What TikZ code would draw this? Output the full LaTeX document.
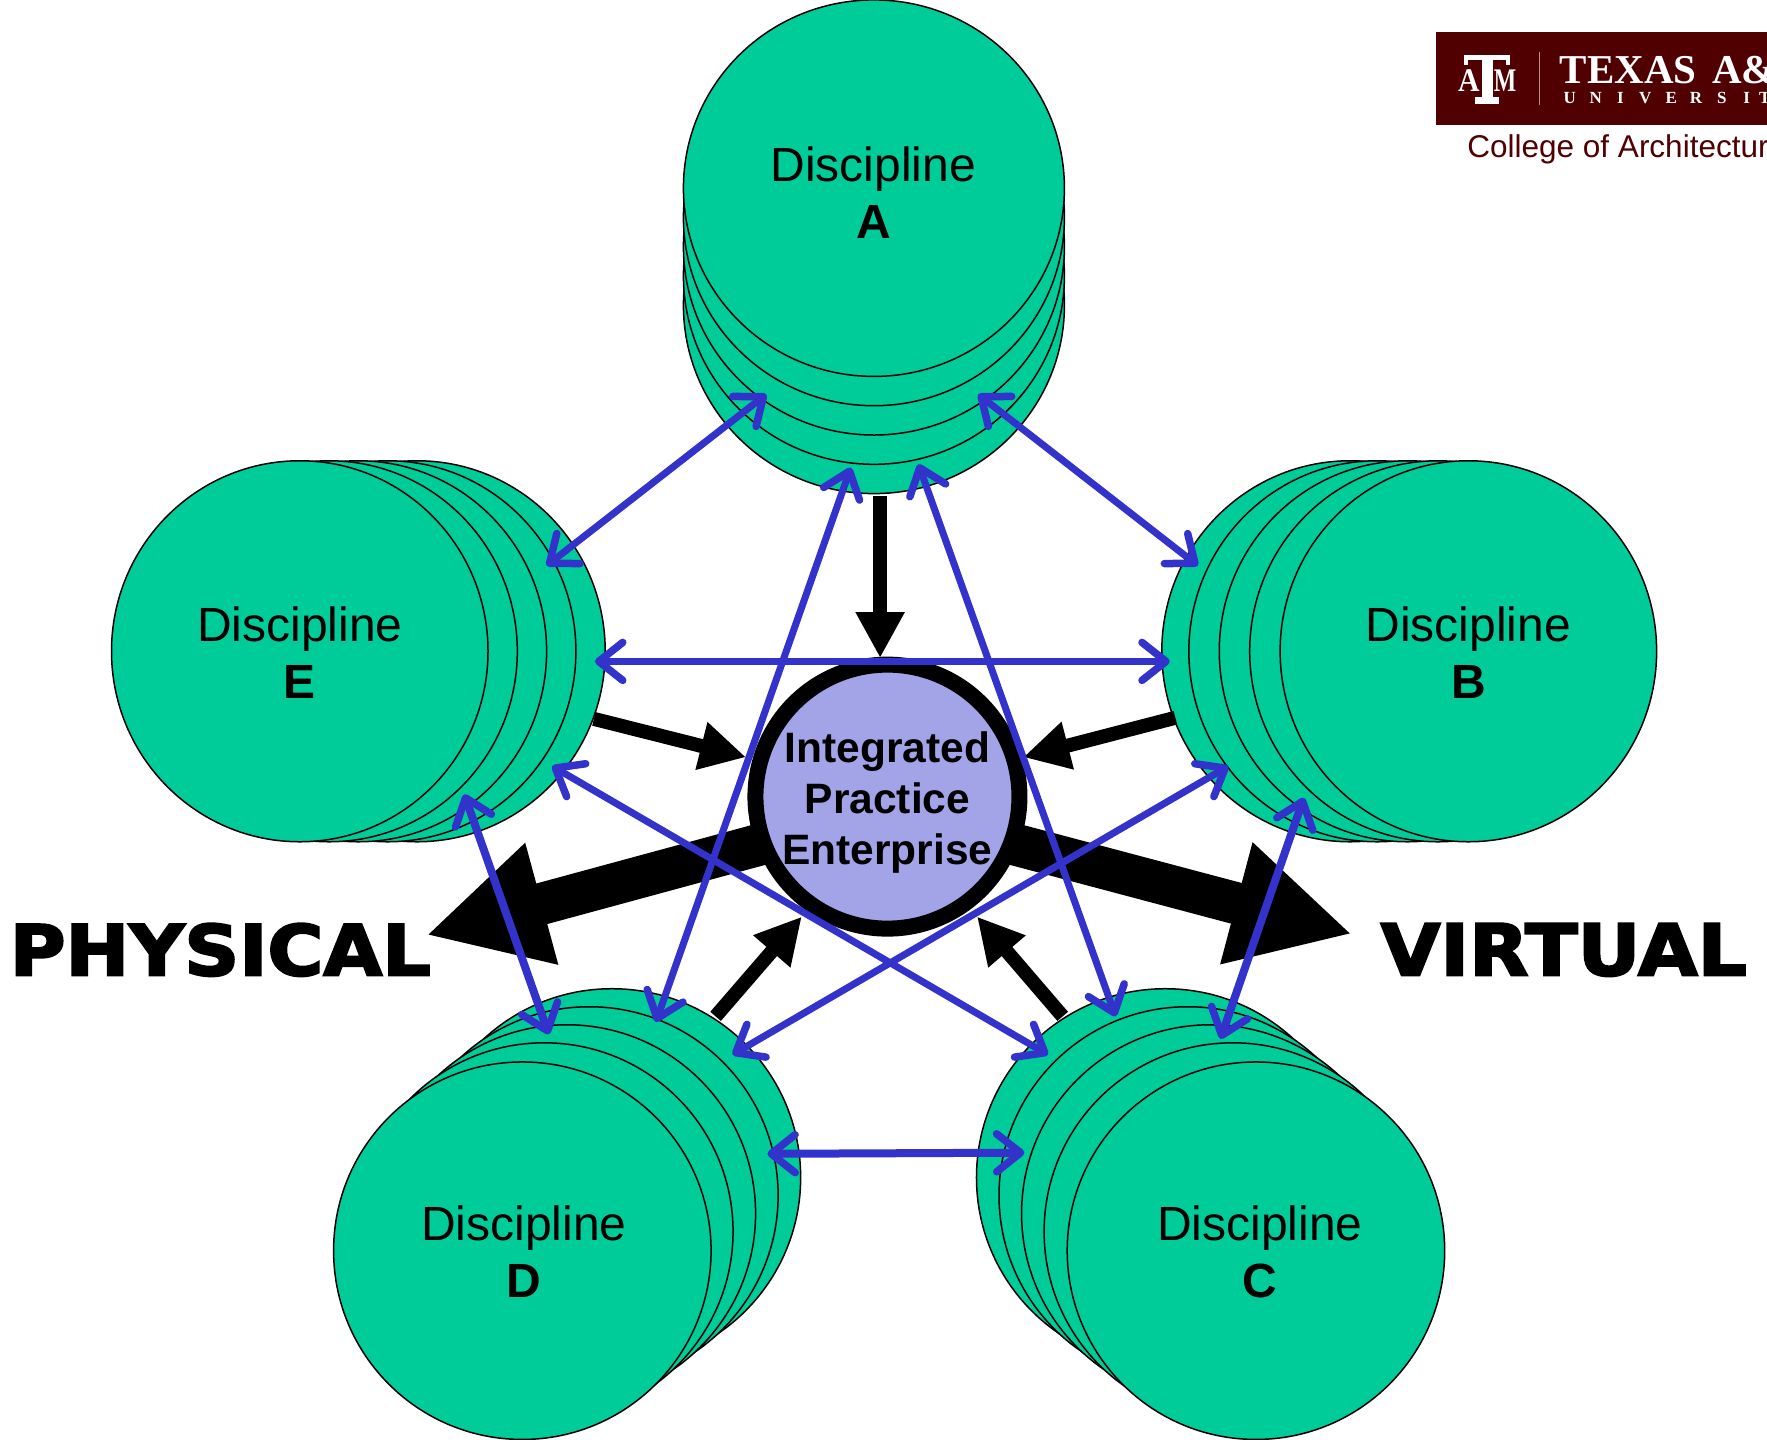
\documentclass[tikz,border=0pt]{standalone}
\usepackage{fontspec}
\usepackage{graphicx}
\setmainfont{Liberation Sans}
\newfontfamily\heavyfont[BoldFeatures={FakeBold=3}]{DejaVu Sans}
\newfontfamily\logoserif{Liberation Serif}
\usetikzlibrary{arrows.meta,shapes.geometric}
\definecolor{discgreen}{HTML}{00CC99}
\definecolor{hubfill}{HTML}{A3A3E8}
\definecolor{linkblue}{HTML}{3333CC}
\definecolor{aggie}{HTML}{500000}
\definecolor{logobar}{HTML}{B89088}
\tikzset{
  disc/.style={circle,draw=black,fill=discgreen,line width=1.5pt,minimum size=377.5pt,inner sep=0pt},
  sidedisc/.style={ellipse,draw=black,fill=discgreen,line width=1.5pt,minimum width=376.5pt,minimum height=381pt,inner sep=0pt},
  topdisc/.style={ellipse,draw=black,fill=discgreen,line width=1.5pt,minimum width=381pt,minimum height=376.5pt,inner sep=0pt},
  disclabel/.style={align=center,font=\fontsize{48pt}{57.5pt}\selectfont,inner sep=0pt},
  blink/.style={{Straight Barb[length=24pt,width=38pt,round,line width=7.5pt]}-{Straight Barb[length=24pt,width=38pt,round,line width=7.5pt]}},
  link/.style={blink,draw=linkblue,line width=7pt},
  flink/.style={blink,draw=linkblue,line width=8pt},
  feed/.style={draw=black,line width=14pt,-{Triangle[length=46pt,width=46pt]}},
  bigflow/.style={draw=black,line width=42pt,-{Triangle[length=120pt,width=117pt]}},
  sidetitle/.style={inner sep=0pt},
  logotext/.style={text=white,inner sep=0pt,font=\logoserif\bfseries},
}
\begin{document}
\begin{tikzpicture}[x=1.12691pt,y=-1.12676pt]
\useasboundingbox (0,0) rectangle (1568,1278);
% logo
\begin{scope}
\clip (0,0) rectangle (1568,1278);
\fill[aggie] (1274,28) rectangle (1568,111);
\draw[logobar,line width=1.6pt] (1366,46) -- (1366,93);
\node[logotext,anchor=base west,font=\logoserif\bfseries\fontsize{41pt}{41pt}\selectfont] (tx) at (1384,74) {TEXAS};
\node[logotext,anchor=base west,font=\logoserif\bfseries\fontsize{41pt}{41pt}\selectfont] (am) at (1519,74) {A\&M};
\foreach \c/\xx in {U/1393,N/1416,I/1438,V/1460,E/1483,R/1505,S/1528,I/1550,T/1566}
  \node[logotext,anchor=base,font=\logoserif\bfseries\fontsize{17pt}{17pt}\selectfont] at (\xx,92) {\c};
\fill[white] (1299,49) rectangle (1340,53);
\fill[white] (1299,49) rectangle (1303,58);
\fill[white] (1336,49) rectangle (1340,58);
\fill[white] (1315,51) rectangle (1325,88);
\fill[white] (1309,86) rectangle (1330,92);
\node[logotext,anchor=base,font=\logoserif\bfseries\fontsize{33pt}{33pt}\selectfont] (la) at (1303.5,81) {\scalebox{.9}[1]{A}};
\node[logotext,anchor=base,font=\logoserif\bfseries\fontsize{33pt}{33pt}\selectfont] (lm) at (1335.5,81) {\scalebox{.72}[1]{M}};
\node[anchor=base west,inner sep=0pt,text=aggie,font=\fontsize{31.5pt}{31.5pt}\selectfont] (college) at (1302,140) {College of Architecture};
\end{scope}
% discipline stacks
\foreach \i/\yy in {4/271,3/245,2/219,1/193,0/167} \node[topdisc] (A\i) at (775.5,\yy) {};
\foreach \i/\xx in {4/1198,3/1222,2/1249,1/1276,0/1303} \node[sidedisc] (B\i) at (\xx,578) {};
\foreach \i/\xx/\yy in {4/1034/1045,3/1054/1061,2/1074/1077,1/1094/1093,0/1114.5/1110} \node[disc] (C\i) at (\xx,\yy) {};
\foreach \i/\xx/\yy in {4/543/1045,3/523/1061,2/503/1077,1/483/1093,0/463.5/1110} \node[disc] (D\i) at (\xx,\yy) {};
\foreach \i/\xx in {4/370,3/344,2/318,1/292,0/266} \node[sidedisc] (E\i) at (\xx,578) {};
\node[disclabel] (lA) at (775,171) {Discipline\\\textbf{A}};
\node[disclabel] (lB) at (1303,579) {Discipline\\\textbf{B}};
\node[disclabel] (lC) at (1118,1111) {Discipline\\\textbf{C}};
\node[disclabel] (lD) at (465,1111) {Discipline\\\textbf{D}};
\node[disclabel] (lE) at (266,579) {Discipline\\\textbf{E}};
% flows behind hub
\coordinate (hubL) at (680,748);
\coordinate (hubR) at (895,748);
\coordinate (tipL) at (378,830);
\coordinate (tipR) at (1200,829);
\draw[bigflow] (hubL) -- (tipL);
\draw[bigflow] (hubR) -- (tipR);
% hub
\node[circle,draw=black,fill=hubfill,line width=16pt,minimum size=264pt,inner sep=0pt] (hub) at (787.5,707) {};
\node[align=center,inner sep=0pt,font=\bfseries\fontsize{42.5pt}{51pt}\selectfont] (hubtext) at (787.5,712) {Integrated\\Practice\\Enterprise};
% feeders
\coordinate (fA1) at (781,440); \coordinate (fA2) at (781,584);
\coordinate (fB1) at (1043,637); \coordinate (fB2) at (908,672);
\coordinate (fC1) at (943,902); \coordinate (fC2) at (867,813.5);
\coordinate (fD1) at (635,902); \coordinate (fD2) at (711.5,813.5);
\coordinate (fE1) at (527,638); \coordinate (fE2) at (662,672);
\foreach \k in {A,B,C,D,E} \draw[feed] (f\k1) -- (f\k2);
% links
\coordinate (ae) at (680,350); \coordinate (ea) at (485,502);
\coordinate (ab) at (868,350); \coordinate (ba) at (1063,502);
\coordinate (eb) at (528,587); \coordinate (be) at (1038,587);
\coordinate (ad) at (755,415); \coordinate (da) at (582,907);
\coordinate (ac) at (815,412); \coordinate (ca) at (990,902);
\coordinate (ed) at (412,705); \coordinate (de) at (487,918);
\coordinate (bc) at (1157,708); \coordinate (cb) at (1083,922);
\coordinate (dc) at (681,1024); \coordinate (cd) at (909,1023);
\coordinate (ec) at (490,680); \coordinate (ce) at (930,936);
\coordinate (bd) at (1090,680); \coordinate (db) at (650,936);
\foreach \p/\q in {ae/ea,ab/ba,eb/be,ad/da,ac/ca,bd/db,ec/ce}
  \draw[link] (\p) -- (\q);
\foreach \p/\q in {ed/de,bc/cb,dc/cd}
  \draw[flink] (\p) -- (\q);
% titles
\node[sidetitle,anchor=west] (phys) at (8.5,843) {\resizebox{421pt}{52pt}{\heavyfont\bfseries PHYSICAL}};
\node[sidetitle,anchor=west] (virt) at (1225,843) {\resizebox{366pt}{52pt}{\heavyfont\bfseries VIRTUAL}};
\end{tikzpicture}
\end{document}
